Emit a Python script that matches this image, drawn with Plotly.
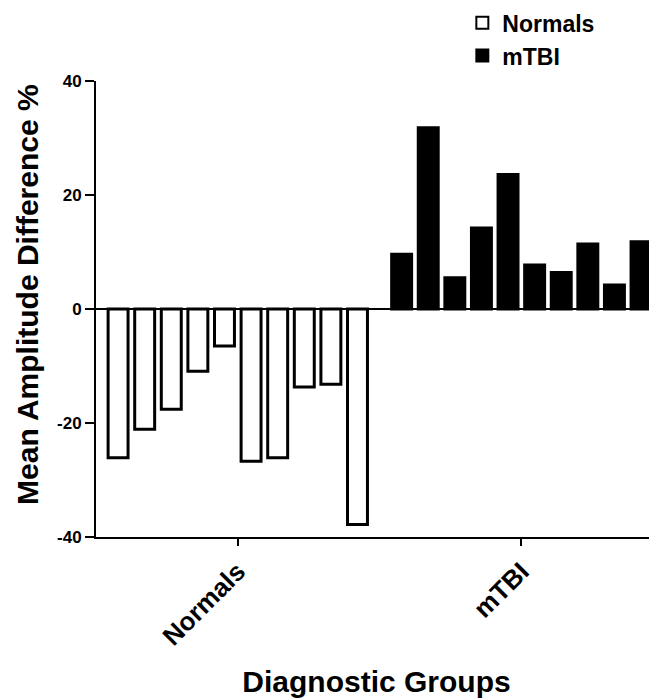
import numpy as np
import plotly.graph_objects as go

categories = ["Normals", "mTBI"]
normals_values = [-26.1, -21.1, -17.6, -10.9, -6.5, -26.7, -26.1, -13.7, -13.2, -37.8]
mtbi_values = [9.6, 31.8, 5.5, 14.2, 23.6, 7.7, 6.4, 11.4, 4.2, 11.8]
y_ticks = [-40, -20, 0, 20, 40]
y_tick_labels = ["-40", "-20", "0", "20", "40"]

FONT = "Liberation Sans, Arial, sans-serif"
group_offset = 10.66
x_norm = np.arange(len(normals_values))
x_mtbi = np.arange(len(mtbi_values)) + group_offset

fig = go.Figure()
fig.add_trace(go.Bar(
    x=x_norm, y=normals_values, name="Normals", width=0.75,
    marker=dict(color="white", line=dict(color="black", width=3)),
))
fig.add_trace(go.Bar(
    x=x_mtbi, y=mtbi_values, name="mTBI", width=0.75,
    marker=dict(color="black", line=dict(color="black", width=3)),
))

fig.update_layout(
    width=649, height=690,
    margin=dict(l=88, r=0, t=73, b=161, autoexpand=False),
    paper_bgcolor="white", plot_bgcolor="white",
    barmode="overlay",
    font=dict(family=FONT, color="black", weight="bold"),
    legend=dict(
        x=0.653, y=1.175, xanchor="left", yanchor="top",
        font=dict(size=23, family=FONT, weight="bold"),
        bgcolor="rgba(0,0,0,0)", itemsizing="constant",
        tracegroupgap=0,
    ),
    xaxis=dict(
        range=[-0.83, 20.26],
        tickvals=[x_norm.mean(), x_mtbi.mean()],
        ticktext=categories,
        tickangle=-45,
        ticks="outside", ticklen=7, tickwidth=2, tickcolor="black",
        tickfont=dict(size=26, family=FONT, weight="bold"),
        showline=True, linecolor="black", linewidth=2,
        showgrid=False, zeroline=False,
        title=dict(text="Diagnostic Groups", font=dict(size=30, family=FONT, weight="bold"), standoff=25),
    ),
    yaxis=dict(
        range=[-40, 40],
        tickvals=y_ticks, ticktext=y_tick_labels,
        ticks="outside", ticklen=9, tickwidth=2, tickcolor="black",
        tickfont=dict(size=17, family=FONT, weight="bold"),
        showline=True, linecolor="black", linewidth=2,
        showgrid=False,
        zeroline=True, zerolinecolor="black", zerolinewidth=2,
    ),
    annotations=[dict(
        text="Mean Amplitude Difference %", textangle=-90,
        xref="paper", yref="paper", x=-0.121, y=0.531,
        xanchor="center", yanchor="middle", showarrow=False,
        font=dict(size=30, family=FONT, weight="bold", color="black"),
    )],
)

fig.write_html("out.html")
